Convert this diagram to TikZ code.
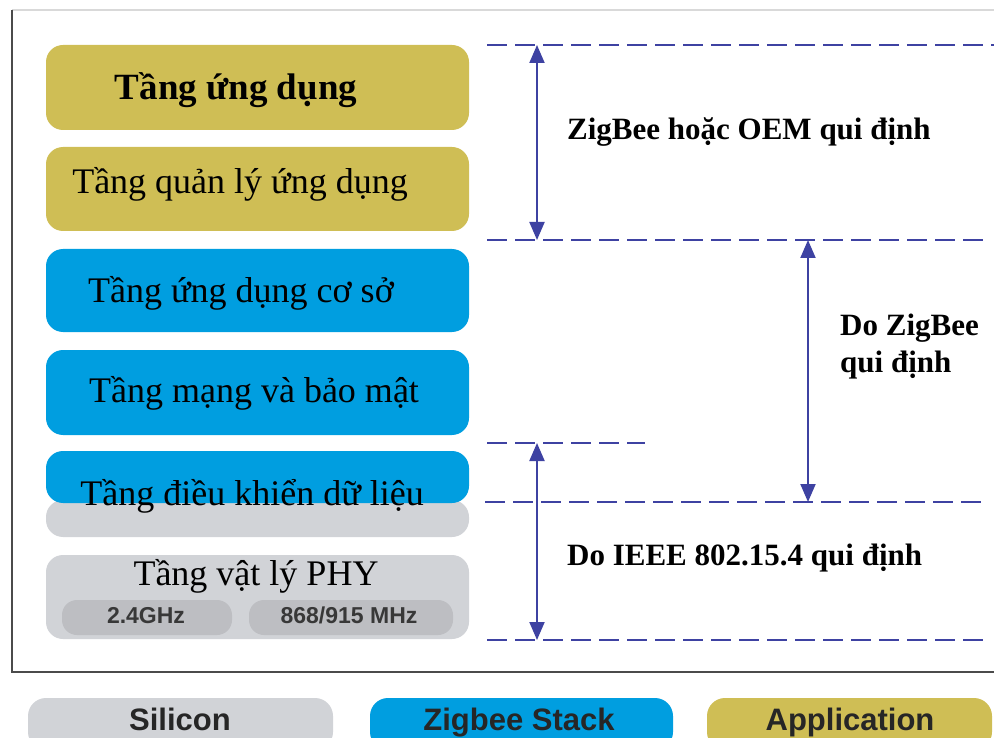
\documentclass[tikz,border=0pt]{standalone}
\usepackage{fontspec}
\setmainfont{Liberation Serif}
\newfontfamily\legendfont{Liberation Sans}
\usetikzlibrary{arrows.meta}
\definecolor{appgold}{RGB}{207,190,85}
\definecolor{stackblue}{RGB}{0,158,224}
\definecolor{silgray}{RGB}{209,211,215}
\definecolor{bandgray}{RGB}{189,190,194}
\definecolor{dimblue}{RGB}{62,66,162}
\definecolor{framegray}{RGB}{75,75,75}

\begin{document}
\begin{tikzpicture}[x=1pt,y=1pt,yscale=-1,xscale=1,
  layerbox/.style={rounded corners=17pt},
  layertext/.style={anchor=base,inner sep=0pt,font=\fontsize{36}{38}\selectfont},
  sidetext/.style={anchor=base west,inner sep=0pt,font=\fontsize{31}{34}\selectfont\bfseries},
  bandtext/.style={anchor=base,inner sep=0pt,text=black!78,font=\legendfont\fontsize{23}{25}\selectfont\bfseries},
  legendtext/.style={anchor=base,inner sep=0pt,text=black!85,font=\legendfont\fontsize{31}{33}\selectfont\bfseries},
  level/.style={dimblue,line width=2pt,dash pattern=on 20pt off 8pt},
  span/.style={dimblue,line width=2pt,{Triangle[length=18pt,width=15pt]}-{Triangle[length=18pt,width=15pt]}}]
\useasboundingbox (0,0) rectangle (994,738);

% frame
\draw [black!15,line width=2.5pt] (12,10) -- (994,10) ;
\draw [framegray,line width=2.5pt] (12,10) -- (12,672) -- (994,672) ;

% protocol stack
\fill [layerbox,appgold] (46,45) rectangle (469,130) ;
\fill [layerbox,appgold] (46,147) rectangle (469,231) ;
\fill [layerbox,stackblue] (46,249) rectangle (469,332) ;
\fill [layerbox,stackblue] (46,350) rectangle (469,435) ;
\fill [layerbox,silgray] (46,500) rectangle (469,537) ;
\fill [layerbox,stackblue] (46,451) rectangle (469,503) ;
\fill [layerbox,silgray] (46,555) rectangle (469,639) ;
\fill [rounded corners=15pt,bandgray] (62,600) rectangle (232,635) ;
\fill [rounded corners=15pt,bandgray] (249,600) rectangle (453,635) ;

\node (app) [layertext,font=\fontsize{37}{39}\selectfont\bfseries] at (236,100) {Tầng ứng dụng};
\node (apm) [layertext] at (240,194) {Tầng quản lý ứng dụng};
\node (aps) [layertext] at (241,302) {Tầng ứng dụng cơ sở};
\node (nwk) [layertext] at (254,402) {Tầng mạng và bảo mật};
\node (mac) [layertext] at (252,505) {Tầng điều khiển dữ liệu};
\node (phy) [layertext] at (256,585) {Tầng vật lý PHY};
\node (band1) [bandtext] at (146,623) {2.4GHz};
\node (band2) [bandtext] at (349,623) {868/915 MHz};

% levels
\coordinate (lvA) at (487,45);  \coordinate (lvAe) at (994,45);
\coordinate (lvB) at (487,240); \coordinate (lvBe) at (990,240);
\coordinate (lvC) at (487,443); \coordinate (lvCe) at (645,443);
\coordinate (lvD) at (485,502); \coordinate (lvDe) at (985,502);
\coordinate (lvE) at (487,640); \coordinate (lvEe) at (985,640);
\draw [level] (lvA) -- (lvAe) ;
\draw [level] (lvB) -- (lvBe) ;
\draw [level] (lvC) -- (lvCe) ;
\draw [level] (lvD) -- (lvDe) ;
\draw [level] (lvE) -- (lvEe) ;

\coordinate (oemTop) at (537,45);  \coordinate (oemBot) at (537,240);
\coordinate (zbTop) at (808,240);  \coordinate (zbBot) at (808,502);
\coordinate (ieeeTop) at (537,443); \coordinate (ieeeBot) at (537,640);
\draw [span] (oemTop) -- (oemBot) ;
\draw [span] (zbTop) -- (zbBot) ;
\draw [span] (ieeeTop) -- (ieeeBot) ;

\node (oem) [sidetext] at (567,140) {ZigBee hoặc OEM qui định};
\node (zb1) [sidetext] at (840,335) {Do ZigBee};
\node (zb2) [sidetext] at (840,372) {qui định};
\node (ieee) [sidetext] at (567,565) {Do IEEE 802.15.4 qui định};

% legend
\fill [rounded corners=18pt,silgray] (28,698) rectangle (333,750) ;
\fill [rounded corners=18pt,stackblue] (370,698) rectangle (673,750) ;
\fill [rounded corners=18pt,appgold] (707,698) rectangle (992,750) ;
\node (silicon) [legendtext] at (180,730) {Silicon};
\node (stack) [legendtext] at (519,730) {Zigbee Stack};
\node (appl) [legendtext] at (850,730) {Application};
\end{tikzpicture}
\end{document}
